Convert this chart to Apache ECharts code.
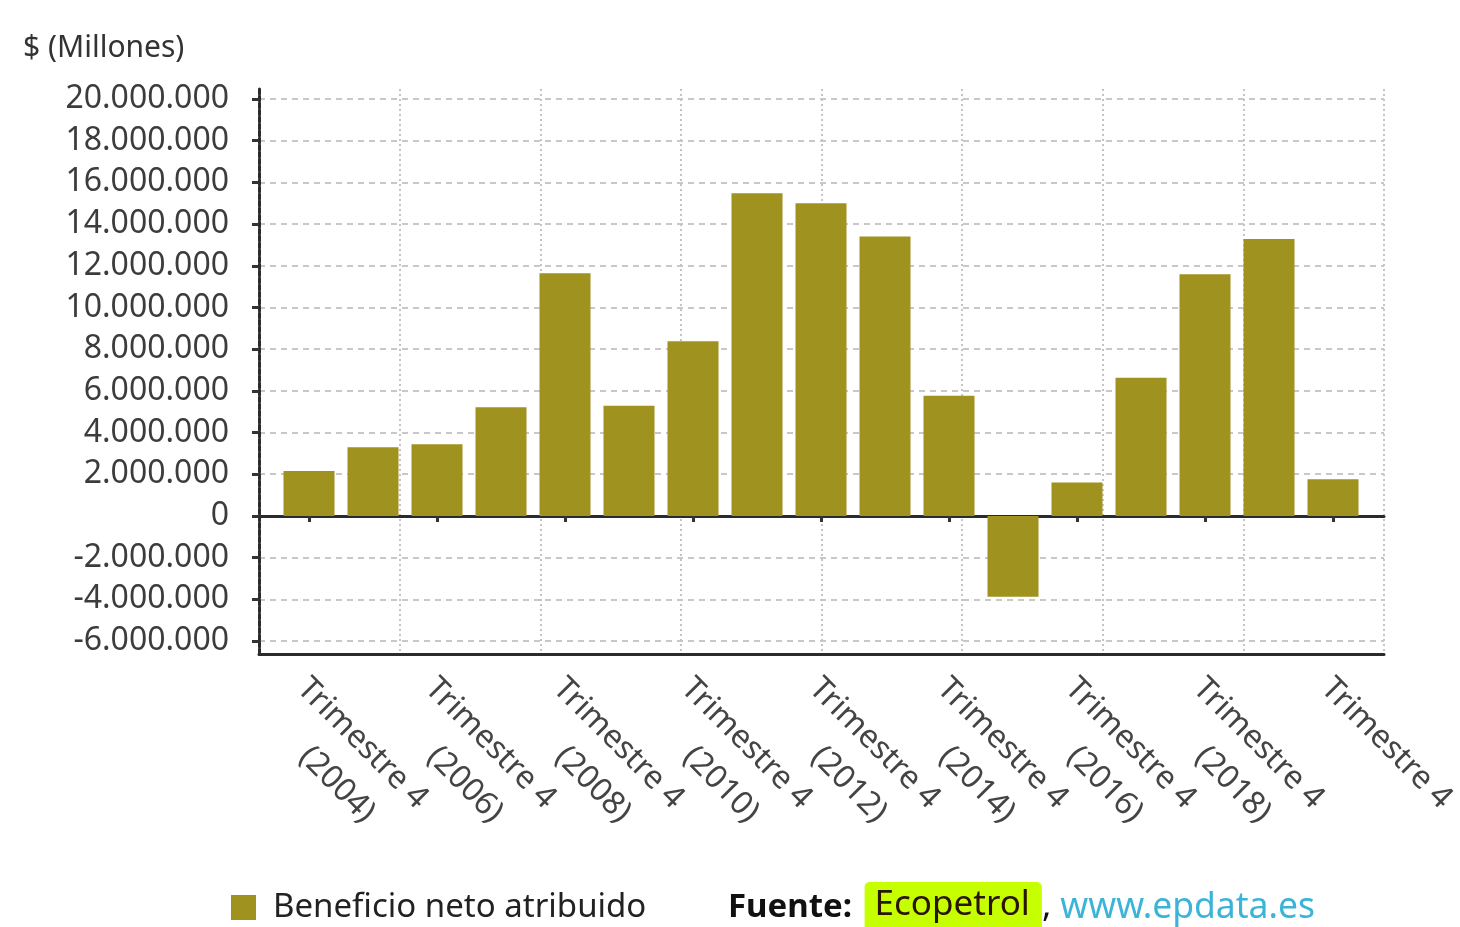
<!DOCTYPE html>
<html>
<head>
<meta charset="utf-8">
<script src="https://cdn.jsdelivr.net/npm/echarts@6/dist/echarts.min.js"></script>
<style>
  html, body { margin: 0; padding: 0; background: #fff; }
  #main { width: 1460px; height: 927px; }
</style>
</head>
<body>
<div id="main"></div>
<script>
  // etiquetas del eje x (una por barra)
  var labels = [
    'Trimestre 4\n(2004)', 'Trimestre 4\n(2005)', 'Trimestre 4\n(2006)', 'Trimestre 4\n(2007)',
    'Trimestre 4\n(2008)', 'Trimestre 4\n(2009)', 'Trimestre 4\n(2010)', 'Trimestre 4\n(2011)',
    'Trimestre 4\n(2012)', 'Trimestre 4\n(2013)', 'Trimestre 4\n(2014)', 'Trimestre 4\n(2015)',
    'Trimestre 4\n(2016)', 'Trimestre 4\n(2017)', 'Trimestre 4\n(2018)', 'Trimestre 4\n(2019)',
    'Trimestre 4'
  ];

  // Beneficio neto atribuido, $ (Millones)
  var beneficio = [
    2160000, 3290000, 3440000, 5210000, 11640000, 5280000, 8380000, 15480000,
    15000000, 13400000, 5760000, -3880000, 1600000, 6630000, 11590000, 13290000,
    1760000
  ];

  var yMin = -6000000;
  var yMax = 20000000;
  var yStep = 2000000;

  var olive = '#a0921e';
  var font = 'Noto Sans';

  var myChart = echarts.init(document.getElementById('main'));

  var option = {
    animation: false,
    textStyle: { fontFamily: font },
    title: {
      text: '$ (Millones)',
      left: 18,
      top: 28,
      textStyle: { fontFamily: font, fontSize: 30, fontWeight: 'normal', color: '#333' }
    },
    legend: {
      data: ['Beneficio neto atribuido'],
      left: 231,
      top: 891,
      padding: 0,
      icon: 'rect',
      itemWidth: 25,
      itemHeight: 25,
      textStyle: { fontFamily: font, fontSize: 33, color: '#222', padding: [0, 0, 0, 12] }
    },
    graphic: [{
      type: 'text',
      left: 728,
      top: 882,
      style: {
        text: '{b|Fuente:}{s| }{eco|Ecopetrol}{c|, }{web|www.epdata.es}',
        rich: {
          b: { fontFamily: font, fontSize: 33, fontWeight: 'bold', fill: '#111', lineHeight: 44 },
          s: { fontFamily: font, fontSize: 33, fill: '#111', lineHeight: 44, padding: [0, 4, 0, 0] },
          eco: {
            fontFamily: font, fontSize: 35, fill: '#2a1500', lineHeight: 44,
            backgroundColor: '#c6ff00', borderRadius: 5, padding: [6, 12, 10, 10]
          },
          c: { fontFamily: font, fontSize: 35, fill: '#111', lineHeight: 44 },
          web: { fontFamily: font, fontSize: 35.5, fill: '#3cb4d8', lineHeight: 44 }
        }
      }
    }],
    grid: [
      // rejilla de etiquetas y líneas horizontales
      { left: 259, width: 1125, top: 99, height: 542, outerBoundsMode: 'none', containLabel: false },
      // rejilla de las barras
      { left: 277, width: 1088, top: 99, height: 542, outerBoundsMode: 'none', containLabel: false },
      // marco: ejes y líneas verticales
      { left: 259, width: 1125, top: 89, height: 565, outerBoundsMode: 'none', containLabel: false }
    ],
    xAxis: [
      {
        gridIndex: 0,
        type: 'value',
        min: 0,
        max: 8,
        axisLine: { show: true, onZero: true, lineStyle: { color: '#2b2b2b', width: 3 } },
        axisTick: { show: false },
        axisLabel: { show: false },
        splitLine: { show: false }
      },
      {
        gridIndex: 1,
        type: 'category',
        data: labels,
        offset: 13,
        axisLine: { show: false },
        axisTick: {
          show: true, alignWithLabel: true, interval: 1, length: 6,
          lineStyle: { color: '#333', width: 3 }
        },
        axisLabel: {
          interval: 1,
          rotate: -45,
          margin: 3,
          align: 'left',
          verticalAlign: 'top',
          padding: [0, 0, 0, 14],
          fontFamily: font,
          fontSize: 32,
          color: '#444',
          formatter: function (v) {
            var parts = v.split('\n');
            var s = '{a|' + parts[0] + '}';
            if (parts[1]) s += '\n{y|' + parts[1] + '}';
            return s;
          },
          rich: {
            a: { fontFamily: font, fontSize: 32, color: '#444', align: 'center', lineHeight: 47 },
            y: { fontFamily: font, fontSize: 32, color: '#444', align: 'center', lineHeight: 47, padding: [0, 0, 0, 22] }
          }
        }
      },
      {
        gridIndex: 2,
        type: 'value',
        min: 0,
        max: 8,
        interval: 1,
        axisLine: { show: true, onZero: false, lineStyle: { color: '#2b2b2b', width: 3 } },
        axisTick: { show: false },
        axisLabel: { show: false },
        splitLine: { show: true, lineStyle: { color: '#c4c4c4', width: 2, type: [2, 3] } }
      }
    ],
    yAxis: [
      {
        gridIndex: 0,
        type: 'value',
        min: yMin,
        max: yMax,
        interval: yStep,
        axisLine: { show: false },
        axisTick: { show: true, length: 7, lineStyle: { color: '#333', width: 3 } },
        axisLabel: {
          margin: 30,
          fontFamily: font,
          fontSize: 32,
          color: '#3c3c3c',
          formatter: miles
        },
        splitLine: { show: true, lineStyle: { color: '#c8c8c8', width: 2, type: [6, 5] } }
      },
      {
        gridIndex: 1,
        type: 'value',
        min: yMin,
        max: yMax,
        interval: yStep,
        show: false
      },
      {
        gridIndex: 2,
        type: 'value',
        min: 0,
        max: 1,
        axisLine: { show: true, onZero: false, lineStyle: { color: '#2b2b2b', width: 3, type: [5, 2] } },
        axisTick: { show: false },
        axisLabel: { show: false },
        splitLine: { show: false }
      }
    ],
    series: [{
      name: 'Beneficio neto atribuido',
      type: 'bar',
      xAxisIndex: 1,
      yAxisIndex: 1,
      barWidth: 51,
      itemStyle: { color: olive },
      data: beneficio
    }]
  };

  myChart.setOption(option);

  // separador de miles con punto: 2000000 -> 2.000.000
  function miles(v) {
    var s = String(Math.abs(v)).replace(/\B(?=(\d{3})+(?!\d))/g, '.');
    return (v < 0 ? '-' : '') + s;
  }
</script>
</body>
</html>
